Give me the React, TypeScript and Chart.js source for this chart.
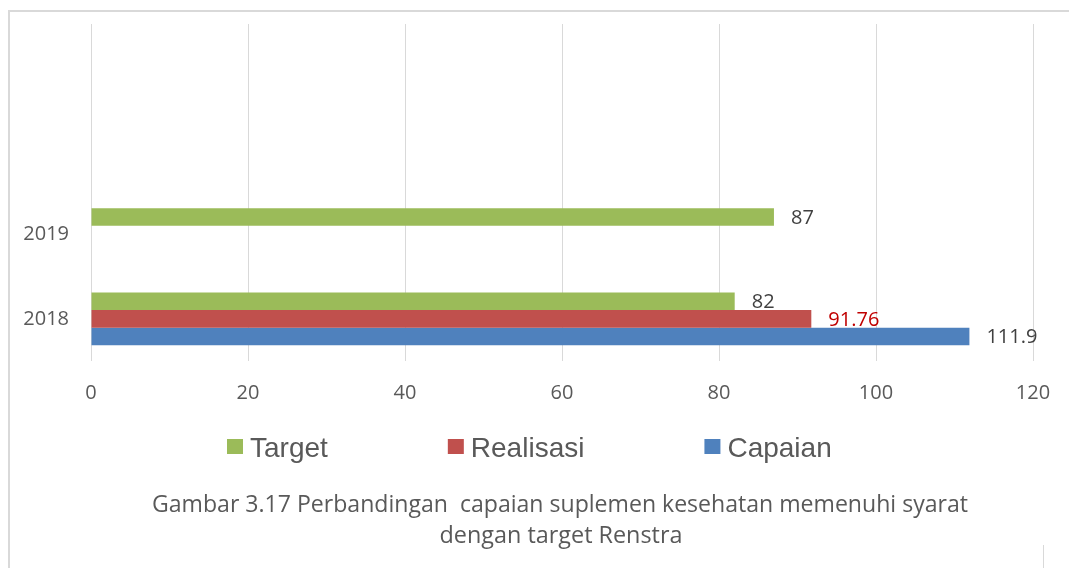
import { useEffect, useRef } from 'react';
import { Chart, registerables } from 'chart.js';

Chart.register(...registerables);

// ---- data ----
const categories = ['2018', '2019', '', ''];
const seriesNames = ['Target', 'Realisasi', 'Capaian'];
const targetValues = [82, 87, null, null];
const realisasiValues = [91.76, null, null, null];
const capaianValues = [111.9, null, null, null];
const xTicks = [0, 20, 40, 60, 80, 100, 120];
const captionLines = [
  'Gambar 3.17 Perbandingan  capaian suplemen kesehatan memenuhi syarat',
  'dengan target Renstra',
];

// ---- styles ----
const seriesColors = ['#9BBB59', '#C0504D', '#4F81BD'];
const labelColors = ['#404040', '#C00000', '#404040'];
const axisTextColor = '#595959';
const gridColor = '#D9D9D9';
const tickFont = { family: "'Open Sans', sans-serif", size: 20 };

const framePlugin = {
  id: 'frame',
  beforeDraw(chart: any) {
    const { ctx, width, height } = chart;
    ctx.save();
    ctx.fillStyle = '#FFFFFF';
    ctx.fillRect(0, 0, width, height);
    ctx.strokeStyle = gridColor;
    ctx.lineWidth = 2;
    ctx.beginPath();
    ctx.moveTo(8, 11);
    ctx.lineTo(width, 11);
    ctx.moveTo(9, 10);
    ctx.lineTo(9, height);
    ctx.stroke();
    ctx.restore();
  },
};

const dataLabelPlugin = {
  id: 'dataLabels',
  afterDatasetsDraw(chart: any) {
    const { ctx } = chart;
    ctx.save();
    ctx.font = "20px 'Open Sans', sans-serif";
    ctx.textAlign = 'left';
    ctx.textBaseline = 'middle';
    chart.data.datasets.forEach((ds: any, di: number) => {
      const meta = chart.getDatasetMeta(di);
      meta.data.forEach((el: any, i: number) => {
        const v = ds.data[i];
        if (v === null || v === undefined) return;
        ctx.fillStyle = labelColors[di];
        ctx.fillText(String(v), el.x + 17, el.y + 1);
      });
    });
    ctx.restore();
  },
};

const legendCaptionPlugin = {
  id: 'legendCaption',
  afterDraw(chart: any) {
    const { ctx } = chart;
    ctx.save();
    ctx.font = "28px 'Liberation Sans', Arial, sans-serif";
    ctx.textBaseline = 'alphabetic';
    ctx.textAlign = 'left';
    let x = 227;
    const boxW = 16;
    const boxH = 15;
    chart.data.datasets.forEach((ds: any) => {
      ctx.fillStyle = ds.backgroundColor;
      ctx.fillRect(x, 439, boxW, boxH);
      ctx.fillStyle = axisTextColor;
      const tx = x + boxW + 7;
      ctx.fillText(ds.label, tx, 456.5);
      const w = ctx.measureText(ds.label).width;
      x = tx + w + 120;
    });
    ctx.font = "24px 'Open Sans', sans-serif";
    ctx.textAlign = 'center';
    ctx.fillStyle = axisTextColor;
    ctx.fillText(captionLines[0], 560, 512, 816);
    ctx.fillText(captionLines[1], 561, 543, 243);
    ctx.strokeStyle = gridColor;
    ctx.lineWidth = 1;
    ctx.beginPath();
    ctx.moveTo(1043.5, 545);
    ctx.lineTo(1043.5, chart.height);
    ctx.stroke();
    ctx.restore();
  },
};

export default function App() {
  const canvasRef = useRef<HTMLCanvasElement | null>(null);

  useEffect(() => {
    if (!canvasRef.current) return;
    const chart = new Chart(canvasRef.current, {
      type: 'bar',
      data: {
        labels: categories,
        datasets: [
          { label: seriesNames[0], data: targetValues, backgroundColor: seriesColors[0] },
          { label: seriesNames[1], data: realisasiValues, backgroundColor: seriesColors[1] },
          { label: seriesNames[2], data: capaianValues, backgroundColor: seriesColors[2] },
        ] as any,
      },
      options: {
        indexAxis: 'y',
        responsive: false,
        devicePixelRatio: 1,
        animation: false,
        datasets: {
          bar: { categoryPercentage: 0.625, barPercentage: 1, borderWidth: 0 },
        } as any,
        layout: { padding: { left: 9, right: 36, top: 24, bottom: 0 } },
        plugins: {
          legend: { display: false },
          tooltip: { enabled: false },
        },
        scales: {
          x: {
            type: 'linear',
            position: 'bottom',
            min: 0,
            max: 120,
            afterBuildTicks: (s: any) => {
              s.ticks = xTicks.map((v) => ({ value: v }));
            },
            grid: { color: gridColor, lineWidth: 1, drawTicks: false, tickLength: 0 },
            border: { display: false },
            ticks: { font: tickFont, color: axisTextColor, padding: 20 },
            afterFit: (s: any) => {
              s.height = 207;
              s.paddingLeft = 0;
              s.paddingRight = 0;
            },
          },
          y: {
            type: 'category',
            reverse: true,
            grid: { display: false, drawTicks: false, tickLength: 0 },
            border: { display: false },
            ticks: { font: tickFont, color: axisTextColor, padding: 22 },
            afterFit: (s: any) => {
              s.width = 82;
              s.paddingTop = 0;
              s.paddingBottom = 0;
            },
          },
        },
      } as any,
      plugins: [framePlugin, dataLabelPlugin, legendCaptionPlugin],
    });
    return () => chart.destroy();
  }, []);

  return (
    <div style={{ position: 'absolute', left: 0, top: 0, width: 1069, height: 568, background: '#fff' }}>
      <canvas ref={canvasRef} width={1069} height={568} />
    </div>
  );
}
